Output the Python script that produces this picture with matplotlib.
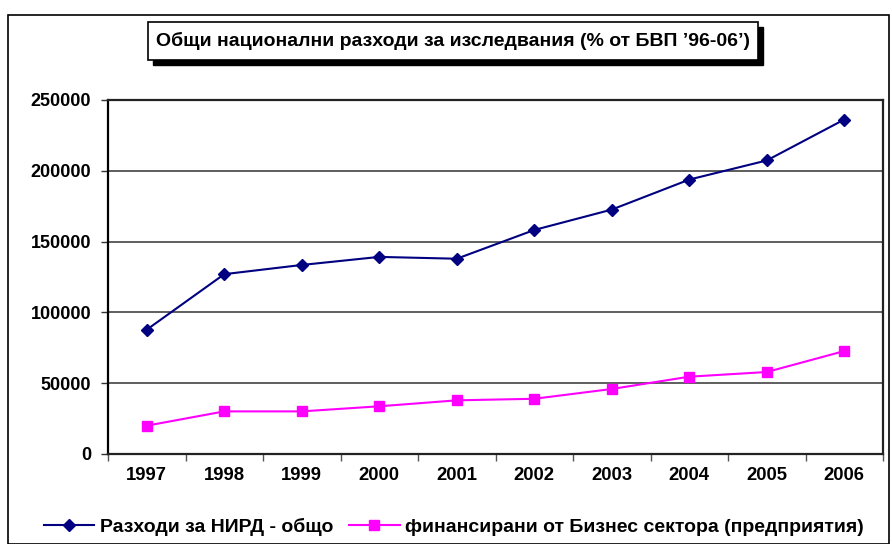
import matplotlib
matplotlib.use("Agg")
import matplotlib.pyplot as plt
from matplotlib.patches import Rectangle
from matplotlib.lines import Line2D

plt.rcParams['font.family'] = ['Liberation Sans', 'DejaVu Sans']

years = ['1997', '1998', '1999', '2000', '2001', '2002', '2003', '2004', '2005', '2006']
total = [87800, 127000, 133500, 139200, 137900, 158200, 172600, 193800, 207300, 236200]
business = [20000, 30100, 30100, 33700, 37900, 39000, 45900, 54600, 57900, 72700]
yticks = [0, 50000, 100000, 150000, 200000, 250000]
title = "Общи национални разходи за изследвания (% от БВП ’96-06’)"
names = ["Разходи за НИРД - общо", "финансирани от Бизнес сектора (предприятия)"]

W, H = 892, 544
fig = plt.figure(figsize=(W/100, H/100), dpi=100)
ax = fig.add_axes([108/W, 1-454/H, 775/W, 354/H])

x = list(range(len(years)))
ax.plot(x, total, color='#000080', marker='D', markersize=6.5, linewidth=1.5,
        markeredgecolor='#000080', label=names[0], zorder=3)
ax.plot(x, business, color='#ff00ff', marker='s', markersize=7.5, linewidth=1.5,
        markeredgecolor='#ff00ff', label=names[1], zorder=3)

ax.set_xlim(-0.5, len(years)-0.5)
ax.set_ylim(0, 250000)
ax.set_yticks(yticks)
ax.set_yticklabels([str(v) for v in yticks], fontsize=13, fontweight='bold')
ax.set_xticks(x)
ax.set_xticklabels(years, fontsize=13.3, fontweight='bold')
ax.tick_params(axis='x', length=0, pad=9)
ax.set_xticks([i-0.5 for i in range(len(years)+1)], minor=True)
ax.tick_params(axis='x', which='minor', length=5, width=1, color='#555555', direction='out')
ax.tick_params(axis='y', length=5, width=1, color='#333333', direction='out', pad=7)
ax.yaxis.grid(True, color='#333333', linewidth=1.1)
ax.set_axisbelow(True)
for s in ['top', 'right']:
    ax.spines[s].set_color('#222222')
    ax.spines[s].set_linewidth(1.6)
ax.spines['left'].set_color('#000000')
ax.spines['left'].set_linewidth(1.6)
ax.spines['bottom'].set_color('#222222')
ax.spines['bottom'].set_linewidth(1.6)

# outer frame
fig.patches.append(Rectangle((8/W, 0), (889-8)/W, (H-15)/H, transform=fig.transFigure,
                             fill=False, edgecolor='black', linewidth=1.2))
# title box with shadow
bx0, by0, bx1, by1 = 148, 22, 758, 60
fig.patches.append(Rectangle(((bx0+5)/W, 1-(by1+5)/H), (bx1-bx0)/W, (by1-by0)/H,
                             transform=fig.transFigure, facecolor='black', edgecolor='black'))
fig.patches.append(Rectangle((bx0/W, 1-by1/H), (bx1-bx0)/W, (by1-by0)/H,
                             transform=fig.transFigure, facecolor='white', edgecolor='black', linewidth=1.2))
fig.text((bx0+bx1)/2/W, 1-(by0+by1)/2/H, title, ha='center', va='center',
         fontsize=14, fontweight='bold')

handles = [Line2D([], [], color='#000080', marker='D', markersize=6, linewidth=1.5),
           Line2D([], [], color='#ff00ff', marker='s', markersize=6.5, linewidth=1.5)]
fig.legend(handles, names, loc='center', bbox_to_anchor=(454/W, 1-527/H), ncol=2,
           frameon=False, prop={'weight': 'bold', 'size': 14}, handlelength=2.6,
           handletextpad=0.3, columnspacing=0.8)

fig.savefig('out.png', dpi=100)
